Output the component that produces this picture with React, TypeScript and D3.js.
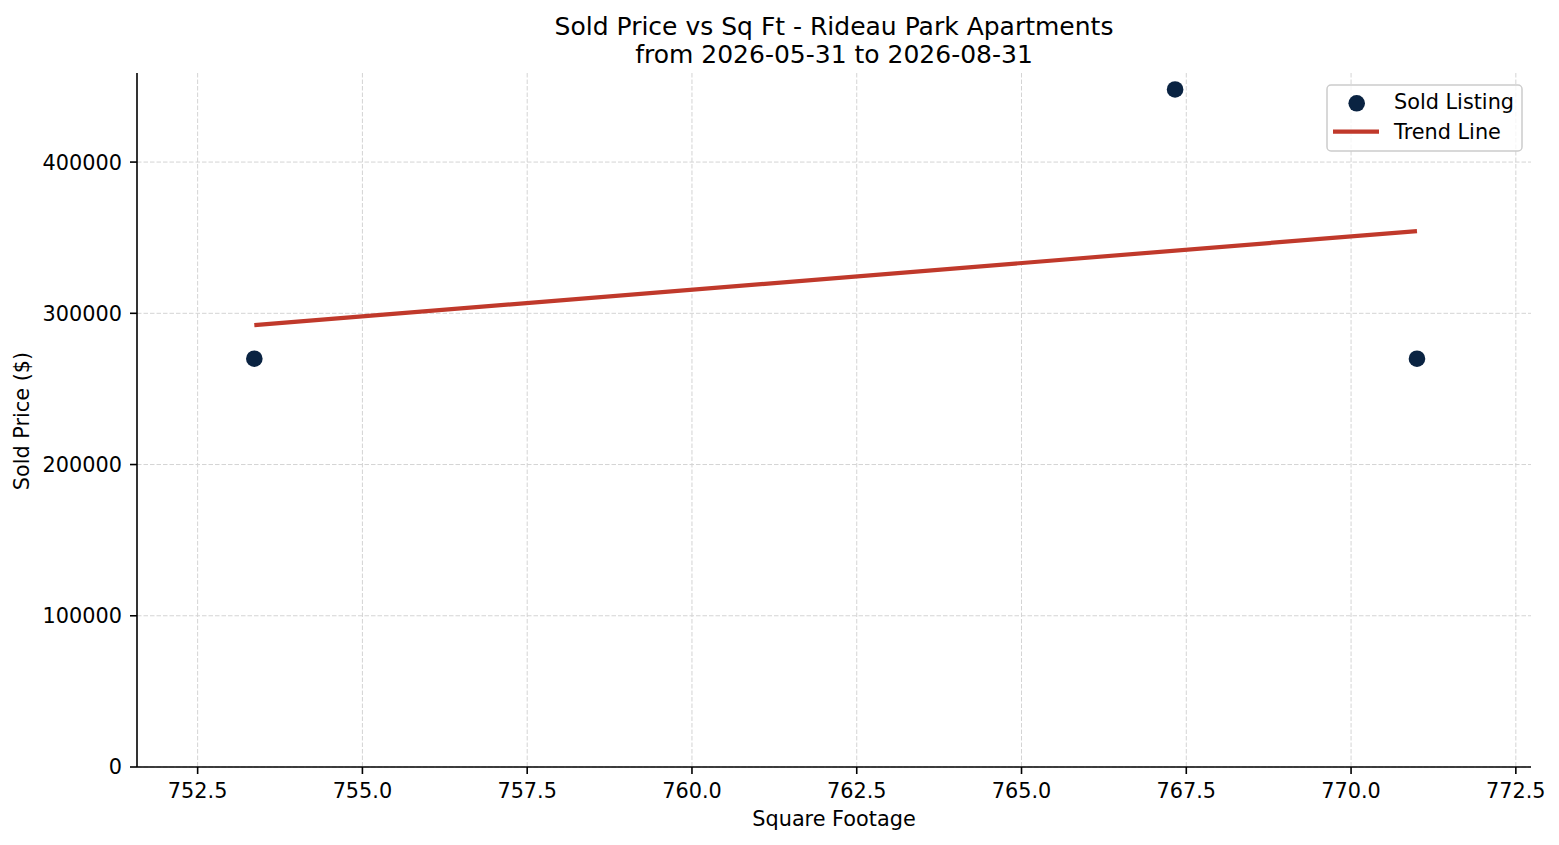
import React from 'react';
import * as d3 from 'd3';

// Sold listings
const sqft = [753.36, 767.33, 771.0];
const soldPrice = [270000, 448000, 270000];

const xTickValues = [752.5, 755.0, 757.5, 760.0, 762.5, 765.0, 767.5, 770.0, 772.5];
const yTickValues = [0, 100000, 200000, 300000, 400000];

const xDomain: [number, number] = [751.58, 772.73];
const yDomain: [number, number] = [0, 458900];

const titleLines = ['Sold Price vs Sq Ft - Rideau Park Apartments', 'from 2026-05-31 to 2026-08-31'];

const WIDTH = 1559;
const HEIGHT = 845;
const margin = { top: 73, right: 28, bottom: 78, left: 137 };

const DOT = '#0a2342';
const TREND = '#c0392b';
const FONT = '"DejaVu Sans", sans-serif';
const FS = 20.8;
const TITLE_FS = 25;

// least squares fit, same as np.polyfit(x, y, 1)
function fitLine(xs: number[], ys: number[]) {
  const mx = d3.mean(xs)!;
  const my = d3.mean(ys)!;
  let num = 0;
  let den = 0;
  xs.forEach((x, i) => {
    num += (x - mx) * (ys[i] - my);
    den += (x - mx) * (x - mx);
  });
  const slope = num / den;
  return (x: number) => my + slope * (x - mx);
}

export default function App() {
  const innerW = WIDTH - margin.left - margin.right;
  const innerH = HEIGHT - margin.top - margin.bottom;

  const x = d3.scaleLinear().domain(xDomain).range([margin.left, margin.left + innerW]);
  const y = d3.scaleLinear().domain(yDomain).range([margin.top + innerH, margin.top]);

  const trend = fitLine(sqft, soldPrice);
  const [xMin, xMax] = d3.extent(sqft) as [number, number];
  const trendPts: [number, number][] = [xMin, xMax].map((v) => [v, trend(v)]);
  const line = d3.line<[number, number]>().x((d) => x(d[0])).y((d) => y(d[1]));

  const bottom = margin.top + innerH;
  const right = margin.left + innerW;
  const cx = margin.left + innerW / 2;

  // legend box
  const lgX = 1327;
  const lgY = 85;
  const lgW = 195;
  const lgH = 66;

  return (
    <svg
      width={WIDTH}
      height={HEIGHT}
      style={{ position: 'absolute', left: 0, top: 0, background: '#fff', fontFamily: FONT }}
    >
      <rect width={WIDTH} height={HEIGHT} fill="#fff" />

      {/* grid */}
      <g stroke="#d4d4d4" strokeWidth={1} strokeDasharray="4.5,2">
        {xTickValues.map((t) => (
          <line key={'gx' + t} x1={x(t)} x2={x(t)} y1={margin.top} y2={bottom} />
        ))}
        {yTickValues.map((t) => (
          <line key={'gy' + t} x1={margin.left} x2={right} y1={y(t)} y2={y(t)} />
        ))}
      </g>

      {/* trend line */}
      <path d={line(trendPts) || ''} fill="none" stroke={TREND} strokeWidth={4.2} />

      {/* points */}
      {sqft.map((s, i) => (
        <circle key={i} cx={x(s)} cy={y(soldPrice[i])} r={8.3} fill={DOT} />
      ))}

      {/* spines */}
      <line x1={margin.left} x2={margin.left} y1={margin.top} y2={bottom} stroke="#000" strokeWidth={1.6} />
      <line x1={margin.left} x2={right} y1={bottom} y2={bottom} stroke="#000" strokeWidth={1.6} />

      {/* x ticks */}
      {xTickValues.map((t) => (
        <g key={'xt' + t}>
          <line x1={x(t)} x2={x(t)} y1={bottom} y2={bottom + 7} stroke="#000" strokeWidth={1.6} />
          <text x={x(t)} y={798} textAnchor="middle" fontSize={FS} fill="#000">
            {t.toFixed(1)}
          </text>
        </g>
      ))}

      {/* y ticks */}
      {yTickValues.map((t) => (
        <g key={'yt' + t}>
          <line x1={margin.left - 7} x2={margin.left} y1={y(t)} y2={y(t)} stroke="#000" strokeWidth={1.6} />
          <text x={margin.left - 15} y={y(t)} dy="0.36em" textAnchor="end" fontSize={FS} fill="#000">
            {String(t)}
          </text>
        </g>
      ))}

      {/* axis labels */}
      <text x={cx} y={826} textAnchor="middle" fontSize={FS} fill="#000">
        Square Footage
      </text>
      <text
        transform={`translate(29, ${margin.top + innerH / 2 + 1}) rotate(-90)`}
        textAnchor="middle"
        fontSize={FS}
        fill="#000"
      >
        Sold Price ($)
      </text>

      {/* title */}
      {titleLines.map((t, i) => (
        <text key={t} x={cx} y={34.5 + i * 28} textAnchor="middle" fontSize={TITLE_FS} fill="#000">
          {t}
        </text>
      ))}

      {/* legend */}
      <g>
        <rect
          x={lgX}
          y={lgY}
          width={lgW}
          height={lgH}
          rx={4}
          fill="#fff"
          fillOpacity={0.8}
          stroke="#cccccc"
          strokeWidth={1.5}
        />
        <circle cx={1356.7} cy={103.3} r={8.3} fill={DOT} />
        <text x={1394} y={109.3} fontSize={FS} fill="#000">
          Sold Listing
        </text>
        <line x1={1333} x2={1379} y1={131.7} y2={131.7} stroke={TREND} strokeWidth={4.2} />
        <text x={1394} y={138.8} fontSize={FS} fill="#000">
          Trend Line
        </text>
      </g>
    </svg>
  );
}
